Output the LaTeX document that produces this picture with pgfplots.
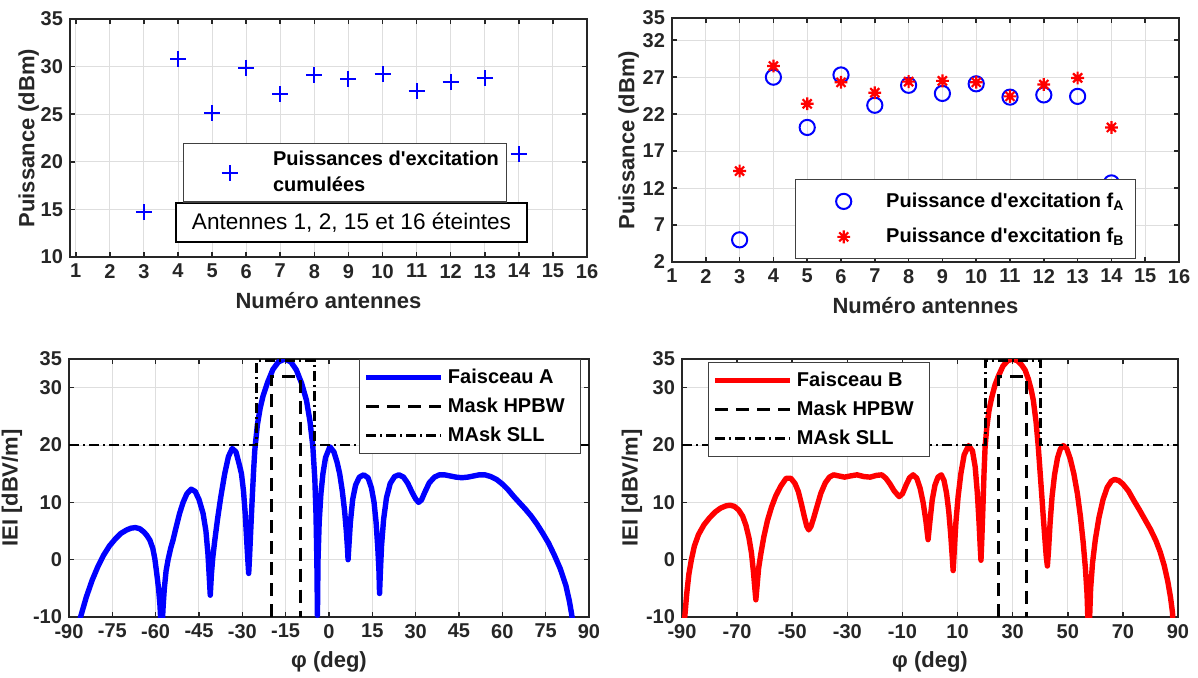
\documentclass[border=0pt]{standalone}
\usepackage{pgfplots}
\pgfplotsset{compat=1.18}
\usepackage{fontspec}
\setmainfont{Liberation Sans}
\definecolor{mblue}{rgb}{0,0,1}
\definecolor{mred}{rgb}{1,0,0}
\definecolor{axgray}{gray}{0.15}
\pgfdeclareplotmark{ast8}{%
  \pgfpathmoveto{\pgfqpoint{-\pgfplotmarksize}{0pt}}\pgfpathlineto{\pgfqpoint{\pgfplotmarksize}{0pt}}%
  \pgfpathmoveto{\pgfqpoint{0pt}{-\pgfplotmarksize}}\pgfpathlineto{\pgfqpoint{0pt}{\pgfplotmarksize}}%
  \pgfpathmoveto{\pgfqpoint{-0.707\pgfplotmarksize}{-0.707\pgfplotmarksize}}\pgfpathlineto{\pgfqpoint{0.707\pgfplotmarksize}{0.707\pgfplotmarksize}}%
  \pgfpathmoveto{\pgfqpoint{-0.707\pgfplotmarksize}{0.707\pgfplotmarksize}}\pgfpathlineto{\pgfqpoint{0.707\pgfplotmarksize}{-0.707\pgfplotmarksize}}%
  \pgfusepathqstroke}
\pgfplotsset{
  mybase/.style={
    scale only axis,
    axis line style={axgray, line width=0.8pt},
    tick style={axgray, line width=0.8pt},
    major tick length=2.5pt,
    tick align=inside,
    grid=major,
    major grid style={black!13, line width=0.5pt},
    ticklabel style={font=\bfseries\fontsize{10}{12}\selectfont, text=axgray},
    label style={font=\bfseries\fontsize{11}{13}\selectfont, text=axgray},
    /pgf/number format/assume math mode=true,
    legend style={draw=black!75, line width=0.6pt, fill=white,
      font=\bfseries\fontsize{10}{12.5}\selectfont, cells={anchor=west}},
  },
  lineleg/.style={legend image code/.code={\draw[##1] (0pt,0pt) -- (37.5pt,0pt);}},
  curve/.style={line width=2.7pt, line join=round},
  hpbw/.style={black, line width=1.4pt, dash pattern=on 6.5pt off 4pt},
  sll/.style={black, line width=1.4pt, dash pattern=on 5pt off 2pt on 1pt off 2pt},
}
\begin{document}
\begin{tikzpicture}
\useasboundingbox (0pt,0pt) rectangle (599pt,-338.5pt);
% ---------------- top left
\begin{axis}[mybase, at={(35pt,-128.5pt)}, anchor=south west,
  width=258.5pt, height=119pt,
  xmin=0.83, xmax=16, ymin=10, ymax=35,
  xtick={1,...,16}, ytick={10,15,20,25,30,35},
  xlabel={Numéro antennes}, ylabel={Puissance (dBm)}, ylabel shift=-6pt,
  legend style={at={(0.2186,0.479)}, anchor=north west, inner xsep=1.7pt, inner ysep=1.5pt},
  legend image code/.code={\path (0pt,0pt) (40pt,0pt); \draw[#1,mark repeat=2,mark phase=2] plot coordinates {(0pt,0pt) (20.8pt,0pt) (41.6pt,0pt)};},
]
\addplot[only marks, mark=+, mark size=4pt, mblue, line width=1pt] coordinates {
 (3,14.7) (4,30.8) (5,25.1) (6,29.9) (7,27.1) (8,29.1) (9,28.7) (10,29.2) (11,27.4) (12,28.4) (13,28.8) (14,20.8)};
\addlegendentry{\shortstack[l]{Puissances d\textquotesingle excitation\\[3pt]cumulées}}
\node[draw=black, line width=0.6pt, fill=white, minimum width=175.5pt, minimum height=19.5pt, inner sep=0pt,
  font=\fontsize{11.3}{13}\selectfont] at (rel axis cs:0.5445,0.145) {Antennes 1, 2, 15 et 16 éteintes};
\end{axis}
% ---------------- top right
\begin{axis}[mybase, at={(336pt,-131pt)}, anchor=south west,
  width=253.5pt, height=122pt,
  xmin=1, xmax=16, ymin=2, ymax=35,
  xtick={1,...,16}, ytick={2,7,12,17,22,27,32,35},
  xlabel={Numéro antennes}, ylabel={Puissance (dBm)}, ylabel shift=-5pt,
  legend style={at={(0.2426,0.340)}, anchor=north west, inner xsep=3.5pt, inner ysep=4.5pt, row sep=5pt},
  legend image code/.code={\path (0pt,0pt) (38.7pt,0pt); \draw[#1,mark repeat=2,mark phase=2] plot coordinates {(0pt,0pt) (20pt,0pt) (40pt,0pt)};},
]
\addplot[only marks, mark=o, mark size=3.8pt, mblue, line width=1pt] coordinates {
 (3,5.0) (4,27.0) (5,20.2) (6,27.3) (7,23.2) (8,25.9) (9,24.8) (10,26.1) (11,24.3) (12,24.6) (13,24.4) (14,12.7)};
\addlegendentry{Puissance d\textquotesingle excitation f\textsubscript{A}}
\addplot[only marks, mark=ast8, mark size=3.2pt, mred, line width=1.1pt] coordinates {
 (3,14.3) (4,28.5) (5,23.4) (6,26.3) (7,24.9) (8,26.4) (9,26.5) (10,26.3) (11,24.4) (12,26.0) (13,26.9) (14,20.2)};
\addlegendentry{Puissance d\textquotesingle excitation f\textsubscript{B}}
\end{axis}
% ---------------- bottom left
\begin{axis}[mybase, lineleg, at={(34.5pt,-308.5pt)}, anchor=south west,
  width=260pt, height=129pt,
  xmin=-90, xmax=90, ymin=-10, ymax=35,
  xtick={-90,-75,...,90}, ytick={-10,0,10,20,30,35},
  xlabel={φ (deg)}, ylabel={IEI [dBV/m]}, ylabel shift=-1.5pt,
  legend style={at={(0.5577,1)}, anchor=north west, inner xsep=2pt, inner ysep=2.5pt, row sep=1.75pt},
]
\addplot[curve, mblue] coordinates {
(-86.5,-12) (-86,-10) (-84,-6.5) (-82,-3.6) (-80,-1.2) (-78,0.8) (-76,2.4) (-74,3.6) (-72,4.6) (-70,5.2) (-68.5,5.5) (-67,5.6) (-65.5,5.4) (-64,4.8) (-63,4.2) (-62,3.4) (-61,2.0) (-60.3,0.2) (-59.6,-2.5) (-59,-5) (-58.5,-8) (-58.1,-12) (-57.8,-12) (-57.4,-8) (-57,-5) (-56.4,-2) (-55.7,0) (-54.8,2) (-54,3.4) (-53,5.5) (-51.7,8.1) (-50.5,10) (-49.2,11.5) (-47.7,12.3) (-46.3,11.9) (-45,10.5) (-43.6,8.1) (-42.6,5) (-41.9,1) (-41.5,-2.5) (-41.1,-6.2) (-40.7,-2.5) (-40.2,0.5) (-39.5,3.5) (-38.6,7) (-37.5,10.8) (-36.1,15) (-34.8,18) (-33.5,19.4) (-32.2,18.8) (-31,16.5) (-30.3,15) (-29.6,12) (-29,8) (-28.5,3.5) (-28.1,0) (-27.8,-2.4) (-27.5,0.5) (-27.1,5) (-26.6,10.5) (-26.1,15.5) (-25.7,19) (-24.8,23.5) (-23.8,26.5) (-22.8,28.6) (-21.2,31) (-19.4,33.2) (-17.5,34.5) (-15.3,35) (-13.2,34.5) (-11.3,33.1) (-9.5,30.8) (-7.8,27.8) (-6.6,24.2) (-5.6,19.8) (-4.9,14) (-4.5,8) (-4.2,0) (-4.0,-9.7) (-3.8,0) (-3.4,6.5) (-2.8,11.5) (-2.1,15) (-1.2,17.8) (0.3,19.7) (1.7,18.8) (2.8,17) (3.7,15) (4.6,12) (5.4,8.5) (6,5) (6.4,2) (6.6,0) (6.9,2.5) (7.4,6.5) (8.2,10.5) (9.2,13) (10.5,14.4) (12,14.8) (13.5,14.3) (14.7,12.5) (15.6,10) (16.3,6.5) (16.9,2) (17.3,-2) (17.5,-5.9) (17.8,-2) (18.2,2.5) (18.9,7) (19.9,10.8) (21.2,13.3) (22.7,14.5) (24.2,14.8) (25.8,14.4) (27.3,13.3) (28.8,11.7) (30,10.6) (31,10) (32,10.4) (33.2,11.8) (34.7,13.4) (36.5,14.4) (38.2,14.8) (40,14.8) (42,14.6) (44,14.4) (46,14.3) (48,14.4) (50,14.6) (52,14.8) (54,14.8) (56,14.5) (58,14.0) (60,13.2) (62,12.2) (64,11.0) (66,9.9) (68,8.8) (70,7.6) (72,6.2) (74,4.6) (76,2.9) (78,0.8) (80,-1.5) (82,-4.5) (83.2,-7.2) (84,-9.5) (84.6,-12)};
\addlegendentry{Faisceau A}
\addplot[hpbw] coordinates {(-20,-10) (-20,32) (-10,32) (-10,-10)};
\addlegendentry{Mask HPBW\hspace*{4pt}}
\addplot[sll] coordinates {(-90,20) (-25,20) (-25,34.7) (-5,34.7) (-5,20) (90,20)};
\addlegendentry{MAsk SLL}
\end{axis}
% ---------------- bottom right
\begin{axis}[mybase, lineleg, at={(341pt,-308.5pt)}, anchor=south west,
  width=248pt, height=129pt,
  xmin=-90, xmax=90, ymin=-10, ymax=35,
  xtick={-90,-70,...,90}, ytick={-10,0,10,20,30,35},
  xlabel={φ (deg)}, ylabel={IEI [dBV/m]}, ylabel shift=-5pt,
  legend style={at={(0.0524,0.988)}, anchor=north west, inner xsep=2pt, inner ysep=2.5pt, row sep=1.75pt},
]
\addplot[curve, mred] coordinates {
(-89.3,-12) (-89,-10) (-88.3,-6) (-87.5,-2.5) (-86.6,0) (-85.5,2.4) (-84,4.4) (-82,6.1) (-80,7.3) (-78,8.3) (-76,9.0) (-74,9.4) (-72.5,9.5) (-71,9.3) (-69.5,8.7) (-68,7.6) (-66.8,6.0) (-65.7,3.8) (-64.8,1.2) (-64.1,-2) (-63.6,-4.8) (-63.2,-7) (-62.8,-4.8) (-62.2,-1.5) (-61.4,1) (-60.3,4) (-59,6.8) (-57.5,9.2) (-56,11.1) (-54.2,12.8) (-52.2,14.2) (-50.5,14.2) (-49,13.3) (-47.8,11.9) (-46.7,9.8) (-45.6,7.5) (-44.7,5.8) (-44,5.2) (-43.2,5.8) (-42.2,7.3) (-41,9.3) (-39.6,11.6) (-38,13.4) (-36.5,14.4) (-35,14.8) (-33,14.6) (-31,14.4) (-29,14.6) (-26.5,14.8) (-24,14.5) (-21.7,14.4) (-19.5,14.7) (-17.5,14.8) (-16,14.2) (-14.5,13.2) (-13,12) (-11.2,11) (-10,11.5) (-8.7,13) (-7.4,14.3) (-6.1,14.8) (-4.8,14.2) (-3.6,12.5) (-2.5,10) (-1.5,6.8) (-0.7,3.5) (0,6.8) (0.8,10.4) (1.8,13) (2.9,14.4) (4.1,14.8) (5.1,13.8) (6,11.6) (6.8,8.5) (7.5,4.5) (8,1) (8.4,-1.9) (8.8,1.5) (9.4,6.5) (10.2,11) (11.2,15) (12.4,18.3) (14,19.9) (15.4,19) (16.4,16.2) (17.2,11.5) (17.8,6.5) (18.2,2.5) (18.5,-0.1) (18.8,3.5) (19.2,9) (19.6,15) (20.0,19.7) (20.6,23) (21.4,26) (22.4,28.3) (23.6,30.5) (24.8,32) (26.5,33.8) (28.2,34.7) (29.9,35) (31.7,34.7) (33.2,34) (34.5,33.1) (35.7,31.5) (36.8,29.5) (37.5,27.8) (38.5,24) (39.3,19.7) (40,15) (40.6,11) (41.1,7.5) (41.8,3) (42.2,0.5) (42.6,-1.1) (43,1.5) (43.6,6.5) (44.3,11) (45.2,14.8) (46.3,17.8) (47.3,19.3) (48.4,19.9) (49.6,19.4) (50.9,17.6) (52.2,15) (53.5,11.5) (54.6,7.5) (55.6,3) (56.4,-1.5) (57,-6) (57.4,-12) (57.8,-12) (58.3,-5) (59,-0.5) (60,3.5) (61.3,7.3) (62.8,10.5) (64.3,12.6) (65.8,13.7) (67,14.0) (68.5,13.8) (70,13.2) (72,12) (74,10.3) (76,8.7) (78,7) (80,5.3) (82,3.3) (83.5,1.4) (85,-1) (86.3,-3.8) (87.3,-6.6) (88,-9.2) (88.3,-12)};
\addlegendentry{Faisceau B}
\addplot[hpbw] coordinates {(25,-10) (25,32) (35,32) (35,-10)};
\addlegendentry{Mask HPBW\hspace*{4pt}}
\addplot[sll] coordinates {(-90,20) (20,20) (20,34.7) (40,34.7) (40,20) (90,20)};
\addlegendentry{MAsk SLL}
\end{axis}
\end{tikzpicture}
\end{document}
